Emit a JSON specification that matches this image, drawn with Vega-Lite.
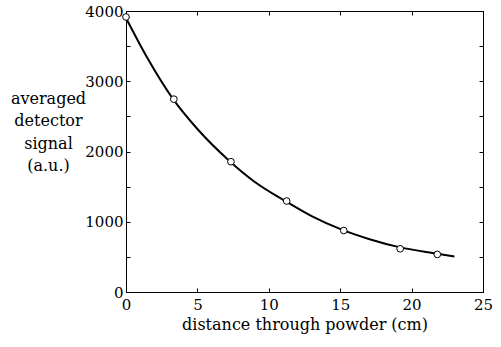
{
  "$schema": "https://vega.github.io/schema/vega-lite/v6.json",
  "width": 357,
  "height": 281,
  "autosize": "none",
  "padding": {"left": 126, "top": 11, "right": 18, "bottom": 55},
  "background": "white",
  "config": {
    "font": "DejaVu Serif",
    "view": {"stroke": "black", "strokeWidth": 1},
    "axis": {
      "labelFont": "DejaVu Serif",
      "labelFontSize": 15,
      "labelColor": "black",
      "titleFont": "DejaVu Serif",
      "titleFontSize": 16,
      "titleFontWeight": "normal",
      "titleColor": "black",
      "domainColor": "black",
      "tickColor": "black",
      "tickSize": -4,
      "labelPadding": 7,
      "grid": false,
      "labelFlush": false,
      "labelOverlap": false
    }
  },
  "datasets": {
    "curve": [
      {"d": 0, "s": 3900},
      {"d": 1.5, "s": 3330},
      {"d": 3.3, "s": 2745},
      {"d": 5, "s": 2320},
      {"d": 7.3, "s": 1855},
      {"d": 9, "s": 1570},
      {"d": 11.2, "s": 1290},
      {"d": 13, "s": 1080},
      {"d": 15.2, "s": 880},
      {"d": 17, "s": 755},
      {"d": 19.2, "s": 635},
      {"d": 21.8, "s": 545},
      {"d": 23, "s": 505}
    ],
    "points": [
      {"d": 0, "s": 3915},
      {"d": 3.35, "s": 2745},
      {"d": 7.35, "s": 1855},
      {"d": 11.25, "s": 1295},
      {"d": 15.25, "s": 875},
      {"d": 19.2, "s": 615},
      {"d": 21.8, "s": 535}
    ]
  },
  "layer": [
    {
      "data": {"name": "curve"},
      "mark": {"type": "line", "color": "black", "strokeWidth": 2, "interpolate": "monotone"},
      "encoding": {
        "x": {
          "field": "d", "type": "quantitative",
          "scale": {"domain": [0, 25], "nice": false, "zero": false},
          "axis": {
            "orient": "bottom",
            "values": [0, 5, 10, 15, 20, 25],
            "labelPadding": 9,
            "title": "distance through powder (cm)",
            "titlePadding": 4
          }
        },
        "y": {
          "field": "s", "type": "quantitative",
          "scale": {"domain": [0, 4000], "nice": false, "zero": false},
          "axis": {
            "orient": "left",
            "values": [0, 500, 1000, 1500, 2000, 2500, 3000, 3500, 4000],
            "format": "d",
            "labelExpr": "datum.value % 1000 == 0 ? datum.label : ''",
            "title": ["averaged", "detector", "signal", "(a.u.)"],
            "titleAngle": 0,
            "titleAlign": "center",
            "titleBaseline": "alphabetic",
            "titleLineHeight": 22.5,
            "titleX": -78,
            "titleY": 92
          }
        }
      }
    },
    {
      "data": {"name": "points"},
      "mark": {"type": "point", "shape": "circle", "filled": true, "fill": "white", "stroke": "black", "strokeWidth": 1, "size": 45, "opacity": 1},
      "encoding": {
        "x": {
          "field": "d", "type": "quantitative",
          "scale": {"domain": [0, 25], "nice": false, "zero": false},
          "axis": {"orient": "top", "values": [0, 5, 10, 15, 20, 25], "labels": false, "title": null}
        },
        "y": {
          "field": "s", "type": "quantitative",
          "scale": {"domain": [0, 4000], "nice": false, "zero": false},
          "axis": {"orient": "right", "values": [0, 500, 1000, 1500, 2000, 2500, 3000, 3500, 4000], "labels": false, "title": null}
        }
      }
    }
  ],
  "resolve": {"axis": {"x": "independent", "y": "independent"}}
}
